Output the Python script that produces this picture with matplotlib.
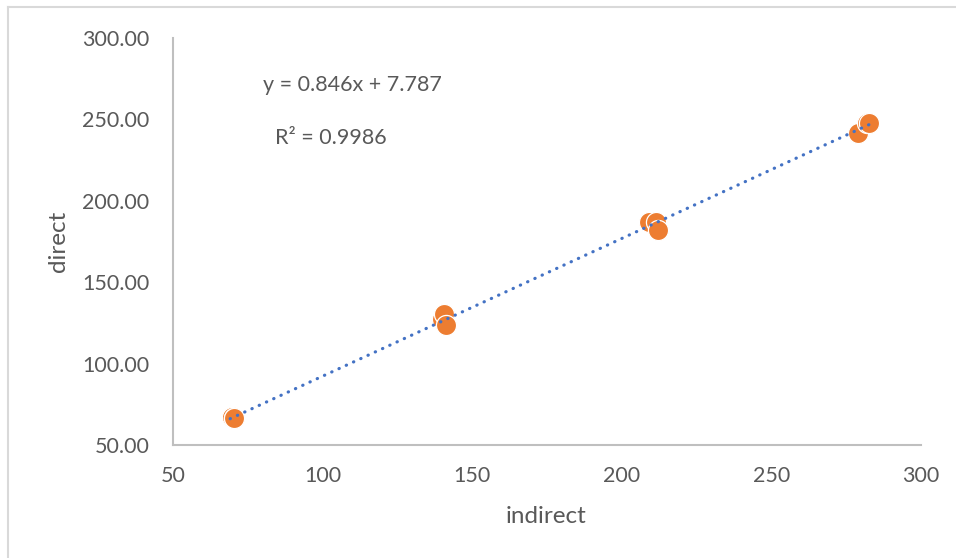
import numpy as np
import matplotlib
matplotlib.use("Agg")
import matplotlib.pyplot as plt
from matplotlib.lines import Line2D

# values
indirect = [69.6, 70.3, 70.5, 139.8, 140.7, 141.4, 209.2, 211.3, 212.0, 279.0, 282.0, 282.6]
direct = [67.3, 66.5, 66.8, 127.5, 130.4, 123.5, 187.0, 187.2, 182.3, 241.8, 247.5, 248.0]

x_ticks = [50, 100, 150, 200, 250, 300]
y_ticks = [50, 100, 150, 200, 250, 300]
eq_text = "y = 0.846x + 7.787"
r2_text = "R² = 0.9986"

TXT = "#595959"
plt.rcParams['font.family'] = ['Lato', 'DejaVu Sans']

fig = plt.figure(figsize=(9.56, 5.58), dpi=100)
W, H = 956, 558
x0, x1, y0, y1 = 173, 921, 445, 38  # plot area in pixels
ax = fig.add_axes([x0 / W, (H - y0) / H, (x1 - x0) / W, (y0 - y1) / H])

ax.scatter(indirect, direct, s=210, color="#ED7D31", edgecolor="white",
           linewidth=0.9, zorder=3, clip_on=False)

# linear trend line
m, b = np.polyfit(indirect, direct, 1)
xs = np.array([min(indirect) - 0.5, max(indirect) + 1.5])
ax.plot(xs, m * xs + b, color="#4472C4", lw=2.3, linestyle=(0, (0.1, 2.4)),
        dash_capstyle="round", zorder=4)

ax.set_xlim(50, 300)
ax.set_ylim(50, 300)
ax.set_xticks(x_ticks)
ax.set_yticks(y_ticks)
ax.set_yticklabels([f"{v:.2f}" for v in y_ticks])
ax.tick_params(length=0, labelsize=15.5, labelcolor=TXT)
ax.tick_params(axis="x", pad=15)
ax.tick_params(axis="y", pad=17)
for s in ["top", "right"]:
    ax.spines[s].set_visible(False)
for s in ["left", "bottom"]:
    ax.spines[s].set_color("#BFBFBF")
    ax.spines[s].set_linewidth(1.5)

ax.set_xlabel("indirect", fontsize=17.5, color=TXT)
ax.set_ylabel("direct", fontsize=17.5, color=TXT)
ax.xaxis.set_label_coords((546 - x0) / (x1 - x0), (y0 - 506) / (y0 - y1))
ax.yaxis.set_label_coords((69 - x0) / (x1 - x0), (y0 - 241) / (y0 - y1))

fig.text(263 / W, 1 - 85 / H, eq_text, fontsize=15.5, color=TXT, va="center", ha="left")
fig.text(275 / W, 1 - 138 / H, r2_text, fontsize=15.5, color=TXT, va="center", ha="left")

# chart-area border (only left and top visible in the reference)
fig.add_artist(Line2D([8 / W, 8 / W], [0, 1 - 7 / H], transform=fig.transFigure,
                      color="#D9D9D9", lw=1.5))
fig.add_artist(Line2D([8 / W, 1], [1 - 7 / H, 1 - 7 / H], transform=fig.transFigure,
                      color="#D9D9D9", lw=1.5))

fig.savefig("out.png", dpi=100)
